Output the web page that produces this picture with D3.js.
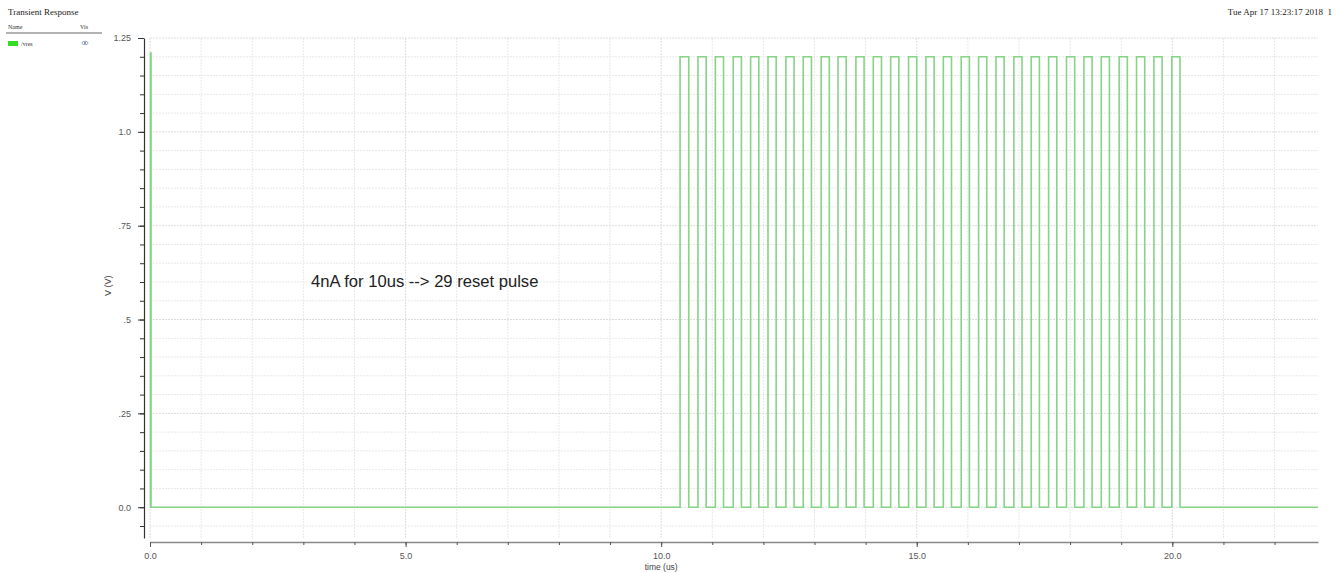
<!DOCTYPE html>
<html><head><meta charset="utf-8">
<script src="https://cdn.jsdelivr.net/npm/d3@7"></script>
<style>
html,body{margin:0;padding:0;background:#fff;}
svg{display:block;}
</style></head>
<body>
<svg id="chart" width="1338" height="573"></svg>
<script>
// ---- data ----
const chartTitle = "Transient Response";
const dateLabel = "Tue Apr 17 13:23:17 2018  1";
const seriesName = "/vres";
const annotation = "4nA for 10us --> 29 reset pulse";
const xTickValues = [0, 5, 10, 15, 20];
const xTickLabels = ["0.0", "5.0", "10.0", "15.0", "20.0"];
const yTickValues = [0, 0.25, 0.5, 0.75, 1.0, 1.25];
const yTickLabels = ["0.0", ".25", ".5", ".75", "1.0", "1.25"];
const startSpike = [0.01, 0.02];      // initial spike rise / fall (us)
const startSpikeHigh = 1.21;
const riseTimes = [10.37,10.72,11.06,11.41,11.75,12.09,12.44,12.78,13.13,13.46,13.81,14.15,14.49,14.84,15.18,15.52,15.87,16.21,16.55,16.90,17.24,17.58,17.93,18.27,18.61,18.96,19.30,19.64,19.99];
const fallTimes = [10.54,10.88,11.22,11.57,11.91,12.25,12.60,12.94,13.29,13.62,13.97,14.31,14.65,15.00,15.34,15.68,16.03,16.37,16.71,17.06,17.40,17.74,18.09,18.43,18.77,19.12,19.46,19.80,20.15];
const pulseHigh = 1.2;
const pulseLow = 0.0;
const tEnd = 22.85;

// ---- scales ----
const svg = d3.select("#chart");
const x = d3.scaleLinear().domain([0, tEnd]).range([150, 1318]);
const y = d3.scaleLinear().domain([-0.082, 1.25]).range([538, 38]);

// ---- grid ----
const grid = svg.append("g");
grid.selectAll("line.vg").data(d3.range(0, 23, 1)).join("line")
  .attr("x1", d => x(d)).attr("x2", d => x(d))
  .attr("y1", y(1.25)).attr("y2", y(-0.082))
  .attr("stroke", d => d % 5 === 0 ? "#dcdcdc" : "#e8e8e8")
  .attr("stroke-width", 1)
  .attr("stroke-dasharray", "2,1");
grid.selectAll("line.hg").data(d3.range(-1, 26, 1).map(i => i * 0.05)).join("line")
  .attr("x1", x(0)).attr("x2", x(tEnd))
  .attr("y1", d => y(d)).attr("y2", d => y(d))
  .attr("stroke", d => (Math.round(d * 100) % 25 === 0) ? "#dcdcdc" : "#e8e8e8")
  .attr("stroke-width", 1)
  .attr("stroke-dasharray", "2,1");

// ---- axes ----
const yAxis = d3.axisLeft(y).tickValues(yTickValues)
  .tickFormat((d, i) => yTickLabels[i]).tickSize(6).tickSizeOuter(0);
const yAxisG = svg.append("g").attr("transform", "translate(144,0)").call(yAxis);
svg.append("g").attr("transform", "translate(144,0)")
  .call(d3.axisLeft(y).tickValues(d3.range(-1, 26, 1).map(i => i * 0.05)).tickFormat("").tickSize(4).tickSizeOuter(0))
  .call(g => g.select(".domain").remove())
  .selectAll("line").attr("stroke", "#333");
yAxisG.select(".domain").attr("stroke", "#333").attr("stroke-width", 1.2);
yAxisG.selectAll(".tick line").attr("stroke", "#333");
yAxisG.selectAll(".tick text").attr("font-family", "Liberation Sans, Arial, sans-serif")
  .attr("font-size", 9).attr("fill", "#555").attr("x", -13);

const xAxis = d3.axisBottom(x).tickValues(xTickValues)
  .tickFormat((d, i) => xTickLabels[i]).tickSize(5).tickSizeOuter(0);
const xAxisG = svg.append("g").attr("transform", "translate(0,542)").call(xAxis);
svg.append("g").attr("transform", "translate(0,542)")
  .call(d3.axisBottom(x).tickValues(d3.range(0, 23, 1)).tickFormat("").tickSize(3).tickSizeOuter(0))
  .call(g => g.select(".domain").remove())
  .selectAll("line").attr("stroke", "#555");
xAxisG.select(".domain").attr("stroke", "#888").attr("stroke-width", 1.6);
xAxisG.selectAll(".tick line").attr("stroke", "#555");
xAxisG.selectAll(".tick text").attr("font-family", "Liberation Sans, Arial, sans-serif")
  .attr("font-size", 9).attr("fill", "#555").attr("y", 11);

svg.append("text").attr("x", x(10)).attr("y", 570).attr("text-anchor", "middle")
  .attr("font-family", "Liberation Sans, Arial, sans-serif").attr("font-size", 8.5).attr("fill", "#444")
  .text("time (us)");
svg.append("text").attr("transform", `translate(111,${y(0.59)}) rotate(-90)`).attr("text-anchor", "middle")
  .attr("font-family", "Liberation Sans, Arial, sans-serif").attr("font-size", 9).attr("fill", "#444")
  .text("V (V)");

// ---- waveform ----
const pts = [[0, pulseLow], [startSpike[0], pulseLow], [startSpike[0], startSpikeHigh], [startSpike[1], startSpikeHigh], [startSpike[1], pulseLow]];
riseTimes.forEach((r, i) => {
  pts.push([r, pulseLow], [r, pulseHigh], [fallTimes[i], pulseHigh], [fallTimes[i], pulseLow]);
});
pts.push([tEnd, pulseLow]);
const line = d3.line().x(d => x(d[0])).y(d => y(d[1]));
svg.append("path").attr("d", line(pts)).attr("fill", "none")
  .attr("stroke", "#86d486").attr("stroke-width", 1.6).attr("stroke-linejoin", "miter");

// ---- annotation ----
svg.append("text").attr("x", 311).attr("y", 287)
  .attr("font-family", "Liberation Sans, Arial, sans-serif").attr("font-size", 16.6).attr("fill", "#222")
  .text(annotation);

// ---- header / legend ----
svg.append("text").attr("x", 8).attr("y", 15)
  .attr("font-family", "Liberation Serif, DejaVu Serif, serif").attr("font-size", 9).attr("fill", "#222")
  .text(chartTitle);
svg.append("text").attr("x", 1332).attr("y", 15).attr("text-anchor", "end")
  .attr("font-family", "Liberation Serif, DejaVu Serif, serif").attr("font-size", 9).attr("fill", "#222")
  .style("white-space", "pre")
  .text(dateLabel);
svg.append("text").attr("x", 8).attr("y", 29)
  .attr("font-family", "Liberation Serif, serif").attr("font-size", 6).attr("fill", "#333").text("Name");
svg.append("text").attr("x", 80).attr("y", 29)
  .attr("font-family", "Liberation Serif, serif").attr("font-size", 6).attr("fill", "#333").text("Vis");
svg.append("line").attr("x1", 6).attr("x2", 102).attr("y1", 33).attr("y2", 33)
  .attr("stroke", "#666").attr("stroke-width", 1);
svg.append("rect").attr("x", 8).attr("y", 41).attr("width", 10).attr("height", 5).attr("fill", "#33dd22");
svg.append("text").attr("x", 21).attr("y", 46)
  .attr("font-family", "Liberation Serif, serif").attr("font-size", 6).attr("fill", "#333").text(seriesName);
svg.append("ellipse").attr("cx", 85).attr("cy", 43).attr("rx", 3).attr("ry", 1.8)
  .attr("fill", "none").attr("stroke", "#8899bb").attr("stroke-width", 0.8);
svg.append("circle").attr("cx", 85).attr("cy", 43).attr("r", 1).attr("fill", "#667799");
</script>
</body></html>
